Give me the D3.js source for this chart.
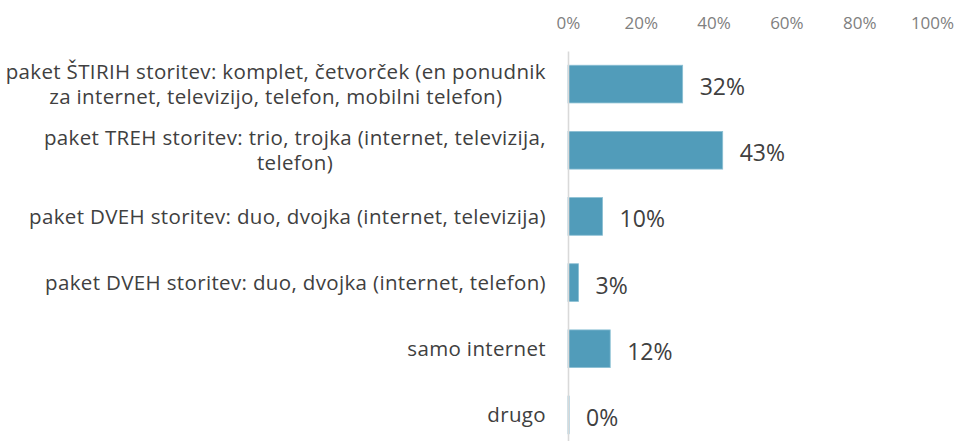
<!DOCTYPE html>
<html>
<head>
<meta charset="utf-8">
<script src="https://cdn.jsdelivr.net/npm/d3@7"></script>
<style>
  body { margin: 0; background: #fff; }
  svg { display: block; font-family: 'Open Sans', sans-serif; }
</style>
</head>
<body>
<svg width="958" height="441"></svg>
<script>
'use strict';

const categories = [
  'paket ŠTIRIH storitev: komplet, četvorček (en ponudnik\nza internet, televizijo, telefon, mobilni telefon)',
  'paket TREH storitev: trio, trojka (internet, televizija,\ntelefon)',
  'paket DVEH storitev: duo, dvojka (internet, televizija)',
  'paket DVEH storitev: duo, dvojka (internet, telefon)',
  'samo internet',
  'drugo'
];
const values = [31.5, 42.5, 9.5, 2.9, 11.6, 0.3];
const ticks = [0, 20, 40, 60, 80, 100];

const svg = d3.select('svg');

const x = d3.scaleLinear()
  .domain([0, 100])
  .range([568, 932]);

const y = d3.scaleBand()
  .domain(categories)
  .range([51, 448])
  .paddingInner(0.43)
  .paddingOuter(0.215);

// top axis, labels only
svg.append('g')
  .attr('transform', 'translate(0,27)')
  .call(d3.axisTop(x).tickValues(ticks).tickSize(0).tickFormat(d => d + '%'))
  .call(g => g.select('.domain').remove())
  .selectAll('text')
    .attr('fill', '#808080')
    .attr('dy', '0.32em')
    .style('font-size', '17px')
    .style('font-family', "'Open Sans', sans-serif");

// bars
svg.append('g')
  .selectAll('rect')
  .data(values)
  .enter().append('rect')
    .attr('x', x(0))
    .attr('y', (d, i) => y(categories[i]))
    .attr('width', d => x(d) - x(0))
    .attr('height', y.bandwidth())
    .attr('fill', '#519cba')
    .attr('stroke', '#8cc0d4')
    .attr('stroke-width', 0.8);

// vertical axis line
svg.append('g')
  .attr('transform', `translate(${x(0)},0)`)
  .call(d3.axisLeft(y).tickSize(0).tickFormat(''))
  .call(g => g.select('.domain').attr('stroke', '#d9d9d9').attr('stroke-width', 1.6));

// value labels
svg.append('g')
  .selectAll('text')
  .data(values)
  .enter().append('text')
    .attr('x', d => x(d) + 17)
    .attr('y', (d, i) => y(categories[i]) + y.bandwidth() / 2 + 11)
    .attr('fill', '#404040')
    .style('font-size', '23px')
    .text(d => Math.round(d) + '%');

// category labels, each block centred, widest line ends at the right edge
const labelRight = 546;
const lineHeight = 25;
categories.forEach(cat => {
  const lines = cat.split('\n');
  const cy = y(cat) + y.bandwidth() / 2;
  const t = svg.append('text')
    .attr('fill', '#404040')
    .attr('text-anchor', 'middle')
    .style('font-size', '20.5px')
    .style('letter-spacing', '0.35px');
  lines.forEach((line, j) => {
    t.append('tspan')
      .attr('y', cy + (j - (lines.length - 1) / 2) * lineHeight)
      .attr('dy', '0.35em')
      .text(line);
  });
  let w = 0;
  t.selectAll('tspan').each(function () {
    w = Math.max(w, this.getComputedTextLength());
  });
  t.selectAll('tspan').attr('x', labelRight - w / 2);
});
</script>
</body>
</html>
